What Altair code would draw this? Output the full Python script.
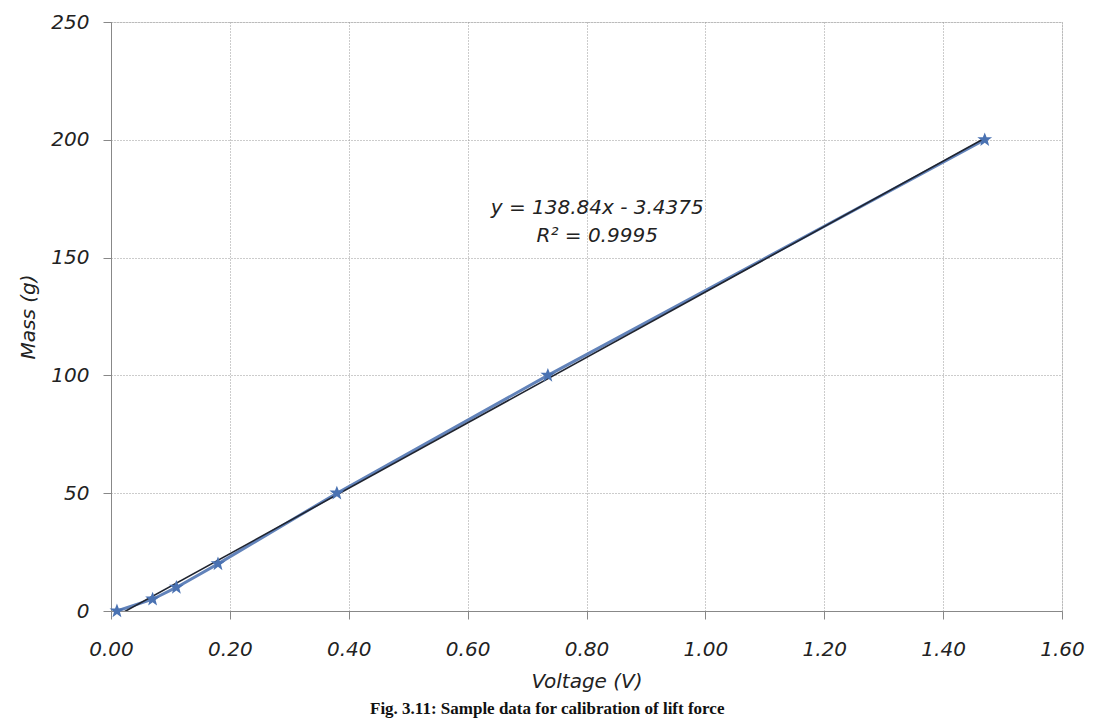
import altair as alt
import pandas as pd

voltage = [0.01, 0.07, 0.11, 0.18, 0.38, 0.735, 1.47]
mass = [0, 5, 10, 20, 50, 100, 200]

slope = 138.84
intercept = -3.4375
trend_x = [0.01, 1.47]
trend_y = [slope * v + intercept for v in trend_x]

eq_lines = ["y = 138.84x - 3.4375", "R² = 0.9995"]
eq_x = [0.818, 0.818]
eq_y = [171, 159]

caption = "Fig. 3.11: Sample data for calibration of lift force"

FONT = "DejaVu Sans"

data = pd.DataFrame({"v": voltage, "m": mass})
trend = pd.DataFrame({"v": trend_x, "m": trend_y})
eq = pd.DataFrame({"v": eq_x, "m": eq_y, "t": eq_lines})
cap = pd.DataFrame({"t": [caption]})

xs = alt.Scale(domain=[0, 1.6], nice=False)
ys = alt.Scale(domain=[0, 250], nice=False)

xaxis = alt.Axis(
    title="Voltage (V)", values=[0, 0.2, 0.4, 0.6, 0.8, 1.0, 1.2, 1.4, 1.6], format=".2f",
    labelFont=FONT, labelFontStyle="italic", labelFontSize=20, labelColor="#222",
    titleFont=FONT, titleFontStyle="italic", titleFontSize=20, titleFontWeight="normal", titleColor="#222",
    labelPadding=20, titlePadding=12, tickSize=8, tickColor="#888", domainColor="#888",
    gridColor="#999", gridDash=[1, 2], gridWidth=1, labelFlush=False,
)
yaxis = alt.Axis(
    title="Mass (g)", values=[0, 50, 100, 150, 200, 250],
    labelFont=FONT, labelFontStyle="italic", labelFontSize=20, labelColor="#222",
    titleFont=FONT, titleFontStyle="italic", titleFontSize=20, titleFontWeight="normal", titleColor="#222",
    labelPadding=14, titlePadding=12, tickSize=8, tickColor="#888", domainColor="#888",
    gridColor="#999", gridDash=[1, 2], gridWidth=1, labelFlush=False,
)

base_line = alt.Chart(data).mark_line(color="#6283BA", strokeWidth=3).encode(
    x=alt.X("v:Q", scale=xs, axis=xaxis),
    y=alt.Y("m:Q", scale=ys, axis=yaxis),
)
pts = alt.Chart(data).mark_point(
    shape="M0,-1L0.25,-0.35L1,-0.35L0.4,0.1L0.6,0.85L0,0.4L-0.6,0.85L-0.4,0.1L-1,-0.35L-0.25,-0.35Z",
    filled=True, color="#4A72B2", size=220, opacity=1,
).encode(x=alt.X("v:Q", scale=xs), y=alt.Y("m:Q", scale=ys))

trend_line = alt.Chart(trend).mark_line(color="#1F2430", strokeWidth=1.6, clip=True).encode(
    x=alt.X("v:Q", scale=xs), y=alt.Y("m:Q", scale=ys)
)

eq_text = alt.Chart(eq).mark_text(
    font=FONT, fontStyle="italic", fontSize=20, color="#222", align="center", baseline="middle"
).encode(x=alt.X("v:Q", scale=xs), y=alt.Y("m:Q", scale=ys), text="t:N")

cap_text = alt.Chart(cap).mark_text(
    font="Liberation Serif", fontWeight="bold", fontSize=17, color="#111", align="left", baseline="alphabetic"
).encode(x=alt.value(259), y=alt.value(692), text="t:N")

chart = alt.layer(base_line, trend_line, pts, eq_text, cap_text).properties(
    width=951, height=589,
    autosize=alt.AutoSizeParams(type="none"),
    padding={"left": 111, "top": 22, "right": 32, "bottom": 108},
).configure_view(stroke=None).configure(background="white")

chart.save("out.html", embed_options={"renderer": "svg", "actions": False})
